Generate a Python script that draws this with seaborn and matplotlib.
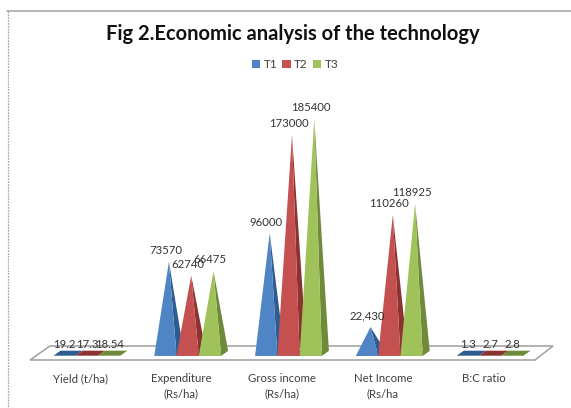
import matplotlib
matplotlib.use("Agg")
import matplotlib.pyplot as plt
from matplotlib.lines import Line2D
from matplotlib.patches import Polygon, Rectangle
import pandas as pd
import seaborn as sns

W, H = 571, 408

categories = ["Yield (t/ha)", "Expenditure\n(Rs/ha)", "Gross income\n(Rs/ha)", "Net Income\n(Rs/ha", "B:C ratio"]
t1_values = [19.2, 73570, 96000, 22430, 1.3]
t2_values = [17.3, 62740, 173000, 110260, 2.7]
t3_values = [18.54, 66475, 185400, 118925, 2.8]
t1_labels = ["19.2", "73570", "96000", "22,430", "1.3"]
t2_labels = ["17.3", "62740", "173000", "110260", "2.7"]
t3_labels = ["18.54", "66475", "185400", "118925", "2.8"]
series_names = ["T1", "T2", "T3"]
front_colors = ["#4F85C5", "#C4504F", "#A0C25A"]
side_colors = ["#2F5C90", "#8C3230", "#6F8A3A"]

sns.set_theme(style="white")
plt.rcParams["font.family"] = ["Lato", "DejaVu Sans"]

df = pd.DataFrame({
    "category": categories * 3,
    "value": t1_values + t2_values + t3_values,
    "series": [s for s in series_names for _ in categories],
})
labels = t1_labels + t2_labels + t3_labels

fig = plt.figure(figsize=(W / 100, H / 100), dpi=100, facecolor="white")

# Axes box in pixels: value zero sits on the front of the floor
ax_left, ax_right, ax_base, ax_top = 36.5, 540.5, 355.7, 100.3
ax = fig.add_axes([ax_left / W, 1 - ax_base / H, (ax_right - ax_left) / W, (ax_base - ax_top) / H])
ax.set_zorder(2)

sns.barplot(data=df, x="category", y="value", hue="series", palette=front_colors,
            hue_order=series_names, order=categories, width=0.663, gap=0, dodge=True,
            errorbar=None, ax=ax, legend=False)
ax.set_ylim(0, 200000)
ax.set_xlim(-0.5, 4.5)
ax.patch.set_alpha(0)

depth_x = 7.0 * 5 / (ax_right - ax_left)        # 7 px of oblique depth, in category units
depth_y = 5.0 * 200000 / (ax_base - ax_top)     # 5 px of oblique rise, in value units

# Oblique floor behind and below the pyramids
floor_pts = [(30, 360), (535, 360), (553, 346), (50, 346)]
fig.add_artist(Polygon([(x / W, 1 - y / H) for x, y in floor_pts], closed=True,
                       facecolor="white", edgecolor="#A6A6A6", linewidth=1.2,
                       transform=fig.transFigure, zorder=0.5))

# Each bar from the bar plot is redrawn as a pyramid of the same width and height
for i, bar in enumerate(list(ax.patches)):
    x0, w, h = bar.get_x(), bar.get_width(), bar.get_height()
    x1 = x0 + w
    s = i // len(categories)
    bar.set_visible(False)
    apex = (x0 + w / 2 + depth_x / 2, h)
    ax.add_patch(Polygon([(x0, 0), (x1, 0), (x1 + depth_x, depth_y), (x0 + depth_x, depth_y)], closed=True,
                         facecolor=side_colors[s], edgecolor="none", clip_on=False, zorder=3 + s))
    if h > 1000:
        ax.add_patch(Polygon([(x1, 0), (x1 + depth_x, depth_y), apex], closed=True,
                             facecolor=side_colors[s], edgecolor="none", clip_on=False, zorder=3 + s))
        ax.add_patch(Polygon([(x0, 0), (x1, 0), apex], closed=True,
                             facecolor=front_colors[s], edgecolor="none", clip_on=False, zorder=3 + s))
    ax.annotate(labels[i], xy=(x0 + w / 2, h), xytext=(0, 11 * 72 / 100), textcoords="offset points",
                ha="center", va="center", fontsize=8.2, color="#333333", zorder=10, annotation_clip=False)

ax.set_xlabel("")
ax.set_ylabel("")
ax.set_yticks([])
ax.set_xticks(range(len(categories)))
ax.set_xticklabels([])
ax.tick_params(axis="x", length=0)
for sp in ax.spines.values():
    sp.set_visible(False)

# Category labels under the floor
for i, cat in enumerate(categories):
    fig.text((ax_left + (i + 0.5) * (ax_right - ax_left) / 5 - 6.5) / W, 1 - 373.5 / H, cat, ha="center", va="top",
             fontsize=8.2, color="#404040", linespacing=1.45)

# Chart frame: a top rule and a dashed left edge, both running off the sheet
fig.add_artist(Line2D([7 / W, 1], [1 - 10.5 / H, 1 - 10.5 / H], color="#A0A0A0", linewidth=1.1,
                      transform=fig.transFigure, zorder=0.2))
fig.add_artist(Line2D([7.5 / W, 7.5 / W], [1 - 10.5 / H, 0], color="#A8A8A8", linewidth=0.9,
                      linestyle=(0, (1.5, 0.8)), transform=fig.transFigure, zorder=0.2))

fig.text(293 / W, 1 - 34 / H, "Fig 2.Economic analysis of the technology", ha="center", va="center",
         fontsize=14.5, fontweight="bold", color="#111111")

handles = [Rectangle((0, 0), 1, 1, facecolor=c, edgecolor="none") for c in front_colors]
fig.legend(handles, series_names, loc="center", bbox_to_anchor=(295 / W, 1 - 64.5 / H), ncol=3, frameon=False,
           fontsize=8.5, handlelength=0.72, handleheight=0.72, handletextpad=0.3, columnspacing=0.4,
           labelcolor="#404040")

fig.savefig("out.png", dpi=100)
